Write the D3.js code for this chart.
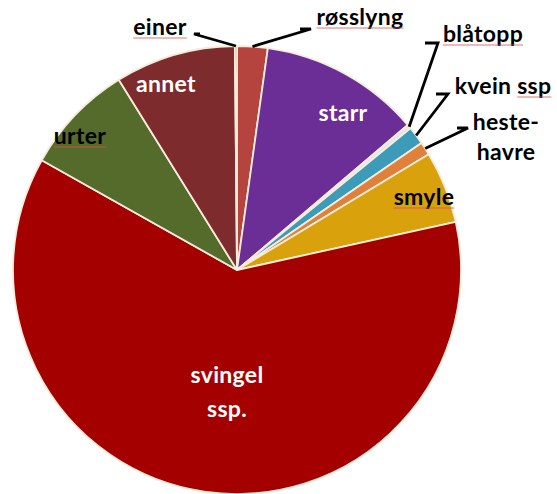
<!DOCTYPE html>
<html>
<head>
<meta charset="utf-8">
<script src="https://cdn.jsdelivr.net/npm/d3@7"></script>
<style>
  html, body { margin: 0; padding: 0; background: #ffffff; }
  svg { display: block; }
  text { font-family: Lato, "Open Sans", sans-serif; font-weight: 700; letter-spacing: 0.3px; }
</style>
</head>
<body>
<svg id="chart" width="557" height="494"></svg>
<script>
// Vegetation composition (share of cover, %), clockwise from 12 o'clock
const categories = ["røsslyng", "starr", "blåtopp", "kvein ssp", "heste-havre", "smyle", "svingel ssp.", "urter", "annet", "einer"];
const shares     = [2.2, 11.6, 0.3, 1.3, 0.95, 5.2, 61.6, 8.0, 8.7, 0.15];
const colors     = ["#b5433e", "#6b2d96", "#dde6f0", "#3b9bb8", "#e0803a", "#d9a20c", "#a50000", "#556b2b", "#7d2b2d", "#c0504d"];

const cx = 237, cy = 270, radius = 224;
const fontSize = 23;

const svg = d3.select("#chart");
const g = svg.append("g").attr("transform", `translate(${cx},${cy})`);

const pie = d3.pie().sort(null).value(d => d.value);
const arc = d3.arc().innerRadius(0).outerRadius(radius);

const data = categories.map((c, i) => ({ name: c, value: shares[i], color: colors[i] }));
const arcs = pie(data);

g.selectAll("path.slice")
  .data(arcs)
  .join("path")
  .attr("class", "slice")
  .attr("d", arc)
  .attr("fill", d => d.data.color)
  .attr("stroke", "#f6ecdc")
  .attr("stroke-width", 1.8)
  .attr("stroke-linejoin", "round");

// Label placement: text lines (page coords), optional leader elbow, text colour
const labelLayout = {
  "røsslyng":     { lines: ["røsslyng"], x: 360, y: 25, fill: "#000", leader: [[311, 29], [300, 29]], underline: true },
  "starr":        { lines: ["starr"], x: 343, y: 121, fill: "#fff" },
  "blåtopp":      { lines: ["blåtopp"], x: 483, y: 42, fill: "#000", leader: [[438, 43], [425, 43]], underline: true },
  "kvein ssp":    { lines: ["kvein ssp"], x: 503, y: 94, fill: "#000", leader: [[448, 94], [436, 94]], underline: "ssp" },
  "heste-havre":  { lines: ["heste-", "havre"], x: 506, y: 130, dy: 30, fill: "#000", leader: [[468, 128], [457, 128]] },
  "smyle":        { lines: ["smyle"], x: 424, y: 205, fill: "#000", underline: true },
  "svingel ssp.": { lines: ["svingel", "ssp."], x: 227, y: 383, dy: 34, fill: "#fff" },
  "urter":        { lines: ["urter"], x: 80, y: 144, fill: "#000", underline: true },
  "annet":        { lines: ["annet"], x: 166, y: 92, fill: "#fff" },
  "einer":        { lines: ["einer"], x: 160, y: 35, fill: "#000", leader: [[194, 34], [200, 34]], underline: true }
};

const labels = svg.append("g");

arcs.forEach(a => {
  const L = labelLayout[a.data.name];
  if (!L) return;
  // leader line from slice edge to label elbow
  if (L.leader) {
    const mid = (a.startAngle + a.endAngle) / 2;
    const ex = cx + radius * Math.sin(mid);
    const ey = cy - radius * Math.cos(mid);
    labels.append("path")
      .attr("d", d3.line()([[ex, ey], ...L.leader]))
      .attr("fill", "none")
      .attr("stroke", "#000")
      .attr("stroke-width", 2.8);
  }
  const dy = L.dy || 0;
  L.lines.forEach((line, k) => {
    const t = labels.append("text")
      .attr("x", L.x)
      .attr("y", L.y + k * dy)
      .attr("text-anchor", "middle")
      .attr("font-size", fontSize)
      .attr("fill", L.fill)
      .text(line);
    if (L.underline) {
      const bb = t.node().getBBox();
      let x0 = bb.x;
      const x1 = bb.x + bb.width;
      if (typeof L.underline === "string") {
        // underline only the trailing word
        const tmp = labels.append("text").attr("font-size", fontSize).text(L.underline);
        const w = tmp.node().getComputedTextLength();
        tmp.remove();
        x0 = x1 - w;
      }
      labels.append("line")
        .attr("x1", x0).attr("x2", x1)
        .attr("y1", L.y + k * dy + 3).attr("y2", L.y + k * dy + 3)
        .attr("stroke", "#d9534f")
        .attr("stroke-width", 1)
        .attr("opacity", 0.8);
    }
  });
});
</script>
</body>
</html>
